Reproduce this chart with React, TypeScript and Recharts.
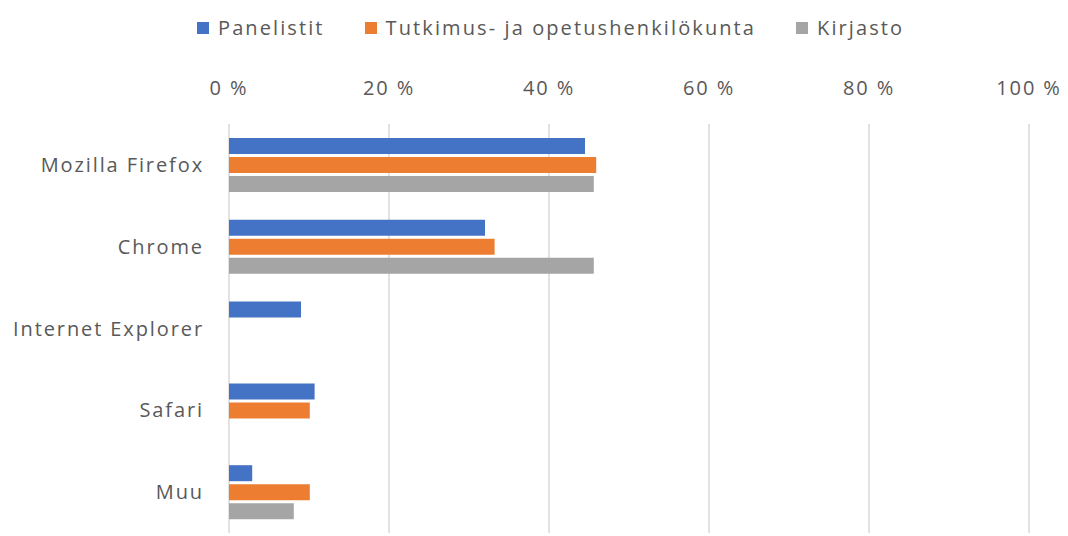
import React from 'react';
import { BarChart, Bar, XAxis, YAxis, CartesianGrid, Legend } from 'recharts';

const categories = ['Mozilla Firefox', 'Chrome', 'Internet Explorer', 'Safari', 'Muu'];
const panelistit = [44.5, 32.0, 9.0, 10.7, 2.9];
const tutkimus = [45.9, 33.2, null, 10.1, 10.1];
const kirjasto = [45.6, 45.6, null, null, 8.1];
const xTicks = [0, 20, 40, 60, 80, 100];

const SERIES = [
  { key: 'panelistit', name: 'Panelistit', color: '#4472C4' },
  { key: 'tutkimus', name: 'Tutkimus- ja opetushenkilökunta', color: '#ED7D31' },
  { key: 'kirjasto', name: 'Kirjasto', color: '#A5A5A5' },
];

const data = categories.map((name, i) => ({
  name,
  panelistit: panelistit[i],
  tutkimus: tutkimus[i],
  kirjasto: kirjasto[i],
}));

const FONT = '"Open Sans", sans-serif';
const TEXT = '#595959';
const SPACING = 1.9;

function LegendContent() {
  return (
    <div style={{ height: 54, display: 'flex', justifyContent: 'flex-start', alignItems: 'center', paddingLeft: 197, paddingTop: 2, boxSizing: 'border-box' }}>
      {SERIES.map((s, i) => (
        <div key={s.key} style={{ display: 'flex', alignItems: 'center', marginLeft: i === 0 ? 0 : 40 }}>
          <span style={{ width: 12, height: 12, background: s.color, display: 'inline-block', marginRight: 9 }} />
          <span style={{ fontFamily: FONT, fontSize: 20, color: TEXT, letterSpacing: 2.1, lineHeight: '24px' }}>{s.name}</span>
        </div>
      ))}
    </div>
  );
}

export default function App() {
  return (
    <div style={{ position: 'absolute', left: 0, top: 0, width: 1068, height: 536, background: '#fff' }}>
      <BarChart
        width={1068}
        height={536}
        data={data}
        layout="vertical"
        margin={{ top: 0, right: 39, bottom: 3, left: 0 }}
        barCategoryGap={14}
        barGap={3}
      >
        <Legend verticalAlign="top" align="left" content={<LegendContent />} wrapperStyle={{ top: 0, left: 0, height: 54, width: 1068 }} />
        <CartesianGrid horizontal={false} stroke="#D9D9D9" strokeWidth={1.5} />
        <XAxis
          type="number"
          orientation="top"
          domain={[0, 100]}
          ticks={xTicks}
          tickFormatter={(v) => `${v} %`}
          axisLine={false}
          tickLine={false}
          tickSize={0}
          tickMargin={29}
          height={70}
          tick={{ fill: TEXT, fontSize: 20, fontFamily: FONT, letterSpacing: SPACING }}
        />
        <YAxis
          type="category"
          dataKey="name"
          width={229}
          axisLine={false}
          tickLine={false}
          tickSize={0}
          tickMargin={25}
          tick={{ fill: TEXT, fontSize: 20, fontFamily: FONT, letterSpacing: SPACING }}
        />
        {SERIES.map((s) => (
          <Bar key={s.key} dataKey={s.key} name={s.name} fill={s.color} isAnimationActive={false} />
        ))}
      </BarChart>
    </div>
  );
}
